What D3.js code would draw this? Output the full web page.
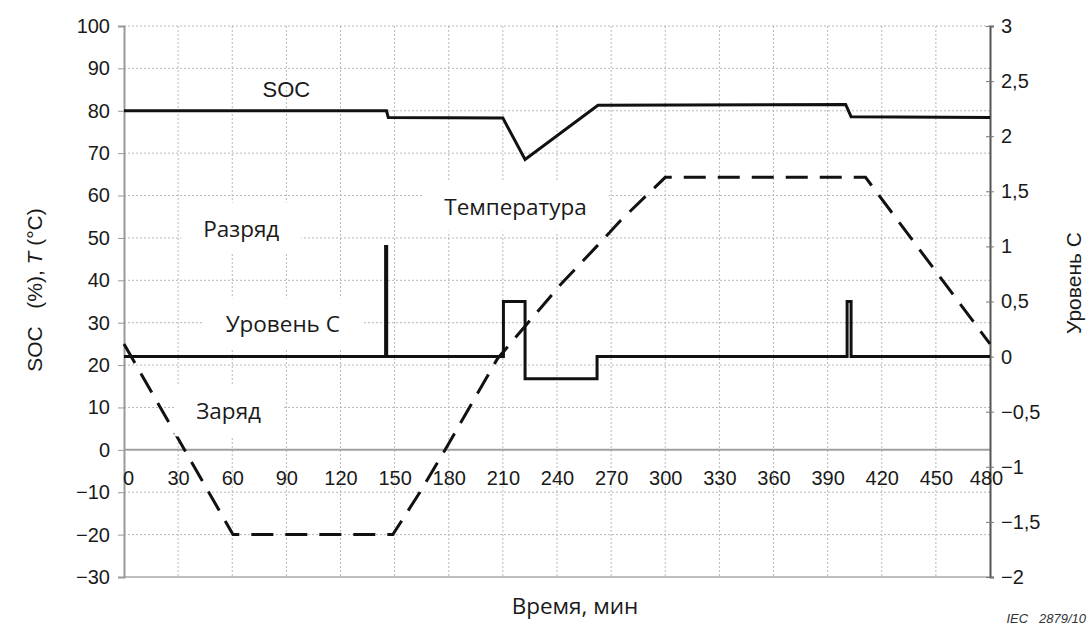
<!DOCTYPE html>
<html>
<head>
<meta charset="utf-8">
<title>SOC, температура и уровень C</title>
<style>
body { margin: 0; background: #fff; }
svg text { font-family: "Liberation Sans", Arial, sans-serif; fill: #1a1a1a; }
.tick text { font-size: 20px; }
.note { font-family: "Open Sans", Lato, sans-serif; font-size: 22.5px; }
.grid line { stroke: #b8b8b8; stroke-width: 1; stroke-dasharray: 2,2; }
</style>
</head>
<body>
<script src="https://cdn.jsdelivr.net/npm/d3@7/dist/d3.min.js"></script>
<script>
// time axis, minutes
var timeTicks = [0, 30, 60, 90, 120, 150, 180, 210, 240, 270, 300, 330, 360, 390, 420, 450, 480];
var leftTicks = [-30, -20, -10, 0, 10, 20, 30, 40, 50, 60, 70, 80, 90, 100];
var rightTicks = [-2, -1.5, -1, -0.5, 0, 0.5, 1, 1.5, 2, 2.5, 3];

// SOC, %
var socTime  = [0, 145.5, 146.5, 210, 222.3, 262.7, 400, 403, 480];
var socValue = [80, 80, 78.4, 78.3, 68.5, 81.3, 81.5, 78.6, 78.4];

// temperature, °C
var tempTime  = [0, 60.4, 149, 164, 178, 207, 242, 262, 275, 300, 411, 480];
var tempValue = [25, -20, -20, -10, 0, 21.5, 39, 48, 54, 64.3, 64.3, 25];

// C-rate (step after each point)
var cTime  = [0, 145, 145.6, 210.3, 222.3, 262.2, 400.8, 403, 480];
var cValue = [0, 1.0, 0, 0.5, -0.2, 0, 0.5, 0, 0];

// text labels inside the plot: [text, time, left value]
var notes = [
	["SOC", 90, 85, "arial"],
	["Разряд", 65, 52.3],
	["Температура", 217, 57.5],
	["Уровень С", 88, 29.7],
	["Заряд", 58, 9.2]
];

var width = 1091, height = 627;
var x = d3.scaleLinear().domain([0, 480]).range([124, 990]);
var yL = d3.scaleLinear().domain([-30, 100]).range([577, 26]);
var yR = d3.scaleLinear().domain([-2, 3]).range([577, 26]);

var ru = d3.formatLocale({decimal: ",", thousands: " ", grouping: [3], currency: ["", ""], minus: "\u2212"});
var fmt = ru.format("");

var svg = d3.select("body").append("svg")
	.attr("width", width)
	.attr("height", height);

// grid
var grid = svg.append("g").attr("class", "grid");
grid.selectAll("line.h").data(leftTicks.filter(function(d) { return d != 0 && d != -30; }))
	.enter().append("line")
	.attr("x1", x(0)).attr("x2", x(480))
	.attr("y1", function(d) { return yL(d); })
	.attr("y2", function(d) { return yL(d); });
grid.selectAll("line.v").data(timeTicks.slice(1, -1))
	.enter().append("line")
	.attr("y1", yL(100)).attr("y2", yL(-30))
	.attr("x1", function(d) { return x(d); })
	.attr("x2", function(d) { return x(d); });

// white boxes behind notes
var noteG = svg.append("g");
var boxes = noteG.append("g");
var noteText = noteG.selectAll("text").data(notes).enter().append("text")
	.attr("class", function(d) { return d[3] ? "" : "note"; })
	.style("font-size", function(d) { return d[3] ? "22px" : null; })
	.attr("x", function(d) { return x(d[1]); })
	.attr("y", function(d) { return yL(d[2]); })
	.attr("text-anchor", "middle")
	.attr("dominant-baseline", "central")
	.text(function(d) { return d[0]; });
noteText.each(function(d) {
	if (d[3]) return;
	var b = this.getBBox();
	boxes.append("rect")
		.attr("x", b.x - 22).attr("y", b.y - 10)
		.attr("width", b.width + 44).attr("height", b.height + 20)
		.attr("fill", "#fff");
});

// zero line and bottom frame
svg.append("line").attr("x1", x(0)).attr("x2", x(480))
	.attr("y1", yL(0)).attr("y2", yL(0))
	.attr("stroke", "#a0a0a0").attr("stroke-width", 2);
svg.append("line").attr("x1", x(0)).attr("x2", x(480))
	.attr("y1", yL(-30)).attr("y2", yL(-30))
	.attr("stroke", "#a8a8a8").attr("stroke-width", 1.5);

// axes
var axL = svg.append("g").attr("transform", "translate(" + x(0) + ",0)")
	.call(d3.axisLeft(yL).tickValues(leftTicks).tickFormat(fmt).tickSize(6).tickPadding(8));
axL.select(".domain").attr("stroke", "#999").attr("stroke-width", 2);
axL.selectAll(".tick line").attr("stroke", "#999");

var axR = svg.append("g").attr("transform", "translate(" + x(480) + ",0)")
	.call(d3.axisRight(yR).tickValues(rightTicks).tickFormat(fmt).tickSize(4).tickPadding(7));
axR.select(".domain").attr("stroke", "#555").attr("stroke-width", 2);
axR.selectAll(".tick line").attr("stroke", "#777").attr("x1", -4);

var axB = svg.append("g").attr("transform", "translate(0," + yL(0) + ")")
	.call(d3.axisBottom(x).tickValues(timeTicks).tickFormat(fmt).tickSize(0).tickPadding(21));
axB.select(".domain").remove();
axB.selectAll(".tick").filter(function(d) { return d == 0; }).select("text").attr("x", 4);
axB.selectAll(".tick").filter(function(d) { return d == 480; }).select("text").attr("x", -4);

// lines
var lineL = d3.line().x(function(d) { return x(d[0]); }).y(function(d) { return yL(d[1]); });
var lineC = d3.line().x(function(d) { return x(d[0]); }).y(function(d) { return yR(d[1]); }).curve(d3.curveStepAfter);

svg.append("path")
	.datum(tempTime.map(function(t, i) { return [t, tempValue[i]]; }))
	.attr("d", lineL)
	.attr("fill", "none").attr("stroke", "#111").attr("stroke-width", 3)
	.attr("stroke-dasharray", "22,12");

svg.append("path")
	.datum(socTime.map(function(t, i) { return [t, socValue[i]]; }))
	.attr("d", lineL)
	.attr("fill", "none").attr("stroke", "#111").attr("stroke-width", 3);

svg.append("path")
	.datum(cTime.map(function(t, i) { return [t, cValue[i]]; }))
	.attr("d", lineC)
	.attr("fill", "none").attr("stroke", "#111").attr("stroke-width", 3);

noteG.raise();

// axis titles
var tl = svg.append("text")
	.attr("transform", "translate(42,290) rotate(-90)")
	.attr("text-anchor", "middle")
	.style("font-size", "21px");
tl.append("tspan").text("SOC\u00a0\u00a0\u00a0(%), ");
tl.append("tspan").style("font-style", "italic").text("T");
tl.append("tspan").text("\u00a0(°C)");

svg.append("text")
	.attr("transform", "translate(1073,283) rotate(-90)")
	.attr("text-anchor", "middle")
	.attr("dominant-baseline", "central")
	.style("font-size", "21px")
	.text("Уровень С");

svg.append("text")
	.attr("class", "note")
	.attr("x", 575).attr("y", 614)
	.attr("text-anchor", "middle")
	.text("Время, мин");

svg.append("text")
	.attr("x", 1086).attr("y", 623)
	.attr("text-anchor", "end")
	.style("font-size", "13px").style("font-style", "italic").style("fill", "#333")
	.text("IEC\u00a0\u00a0\u00a02879/10");
</script>
</body>
</html>
